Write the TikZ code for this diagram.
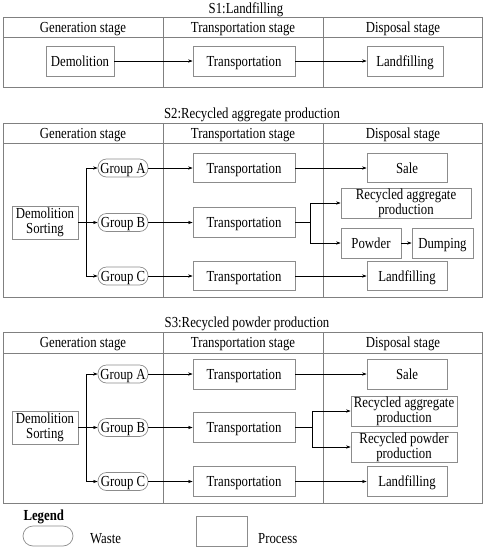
\documentclass[tikz,border=0pt]{standalone}
\usepackage{fontspec}
\setmainfont{Liberation Serif}[FakeStretch=0.835]
\usetikzlibrary{arrows.meta}
\definecolor{boxgray}{HTML}{8C8C8C}
\definecolor{linegray}{HTML}{808080}
\begin{document}
\begin{tikzpicture}[x=1pt,y=-1pt,
  every node/.style={font=\fontsize{15.3}{15}\selectfont, text=black, text height=10pt, text depth=0pt},
  proc/.style={draw=boxgray, line width=0.7pt, inner sep=0pt},
  proctwo/.style={proc, align=center, text height=22pt},
  waste/.style={draw=boxgray, line width=0.7pt, inner sep=0pt, rounded corners=8.5pt, minimum width=50pt, minimum height=18pt},
  arr/.style={-{Stealth[length=4.5pt,width=3.2pt]}, draw=black, line width=0.6pt},
  plain/.style={draw=black, line width=0.6pt},
  tbl/.style={draw=linegray, line width=0.7pt}]
\useasboundingbox (0,0) rectangle (487,550);

% ---------- S1 ----------
\node (t1) at (246,8) {S1:Landfilling};
\draw[tbl] (3.5,17) rectangle (482.5,87);
\draw[tbl] (3.5,37) -- (482.5,37);
\draw[tbl] (163,17) -- (163,87);
\draw[tbl] (323,17) -- (323,87);
\node (h1a) at (83,27) {Generation stage};
\node (h1b) at (243,27) {Transportation stage};
\node (h1c) at (403,27) {Disposal stage};
\node[proc, minimum width=68pt, minimum height=30pt] (dem1) at (80,61) {Demolition};
\node[proc, minimum width=102pt, minimum height=30pt] (tr1) at (244,61) {Transportation};
\node[proc, minimum width=76pt, minimum height=30pt] (lf1) at (405,61) {Landfilling};
\draw[arr] (dem1.east) -- (tr1.west);
\draw[arr] (tr1.east) -- (lf1.west);

% ---------- S2 ----------
\node (t2) at (252,113) {S2:Recycled aggregate production};
\draw[tbl] (3.5,123) rectangle (482.5,297);
\draw[tbl] (3.5,143) -- (482.5,143);
\draw[tbl] (163,123) -- (163,297);
\draw[tbl] (323,123) -- (323,297);
\node (h2a) at (83,133) {Generation stage};
\node (h2b) at (243,133) {Transportation stage};
\node (h2c) at (403,133) {Disposal stage};
\node[proctwo, minimum width=66pt, minimum height=33pt] (ds2) at (45,222.5) {Demolition\\Sorting};
\node[waste] (gA2) at (123,168) {Group A};
\node[waste] (gB2) at (123,222.5) {Group B};
\node[waste] (gC2) at (123,276) {Group C};
\node[proc, minimum width=102pt, minimum height=29pt] (trA2) at (244,168) {Transportation};
\node[proc, minimum width=102pt, minimum height=30pt] (trB2) at (244,222.5) {Transportation};
\node[proc, minimum width=102pt, minimum height=29pt] (trC2) at (244,276) {Transportation};
\node[proc, minimum width=80pt, minimum height=29pt] (sale2) at (407,168) {Sale};
\node[proctwo, minimum width=130pt, minimum height=30pt] (rap2) at (406,203) {Recycled aggregate\\production};
\node[proc, minimum width=60pt, minimum height=30pt] (pow2) at (371,243) {Powder};
\node[proc, minimum width=61pt, minimum height=30pt] (dump2) at (442.5,243) {Dumping};
\node[proc, minimum width=80pt, minimum height=29pt] (lf2) at (407,276) {Landfilling};
\coordinate (br2) at (86,222.5);
\draw[arr] (ds2.east) -- (gB2.west);
\draw[arr] (br2) |- (gA2.west);
\draw[arr] (br2) |- (gC2.west);
\draw[arr] (gA2.east) -- (gA2.east -| trA2.west);
\draw[arr] (gB2.east) -- (gB2.east -| trB2.west);
\draw[arr] (gC2.east) -- (gC2.east -| trC2.west);
\draw[arr] (trA2.east) -- (trA2.east -| sale2.west);
\draw[arr] (trC2.east) -- (trC2.east -| lf2.west);
\coordinate (tb2) at (310,222.5);
\draw[plain] (trB2.east) -- (tb2);
\draw[arr] (tb2) |- (rap2.west);
\draw[arr] (tb2) |- (pow2.west);
\draw[arr] (pow2.east) -- (dump2.west);

% ---------- S3 ----------
\node (t3) at (247,322) {S3:Recycled powder production};
\draw[tbl] (3.5,332) rectangle (482.5,503);
\draw[tbl] (3.5,353) -- (482.5,353);
\draw[tbl] (163,332) -- (163,503);
\draw[tbl] (323,332) -- (323,503);
\node (h3a) at (83,342.5) {Generation stage};
\node (h3b) at (243,342.5) {Transportation stage};
\node (h3c) at (403,342.5) {Disposal stage};
\node[proctwo, minimum width=66pt, minimum height=33pt] (ds3) at (45,427.5) {Demolition\\Sorting};
\node[waste] (gA3) at (123,374) {Group A};
\node[waste] (gB3) at (123,427.5) {Group B};
\node[waste] (gC3) at (123,481.5) {Group C};
\node[proc, minimum width=102pt, minimum height=30pt] (trA3) at (244,374) {Transportation};
\node[proc, minimum width=102pt, minimum height=30pt] (trB3) at (244,427.5) {Transportation};
\node[proc, minimum width=102pt, minimum height=30pt] (trC3) at (244,481.5) {Transportation};
\node[proc, minimum width=80pt, minimum height=30pt] (sale3) at (407,374) {Sale};
\node[proctwo, minimum width=106pt, minimum height=30pt] (rap3) at (404,411) {Recycled aggregate\\production};
\node[proctwo, minimum width=106pt, minimum height=30pt] (rpp3) at (404,447) {Recycled powder\\production};
\node[proc, minimum width=80pt, minimum height=30pt] (lf3) at (407,481.5) {Landfilling};
\coordinate (br3) at (86,427.5);
\draw[arr] (ds3.east) -- (gB3.west);
\draw[arr] (br3) |- (gA3.west);
\draw[arr] (br3) |- (gC3.west);
\draw[arr] (gA3.east) -- (gA3.east -| trA3.west);
\draw[arr] (gB3.east) -- (gB3.east -| trB3.west);
\draw[arr] (gC3.east) -- (gC3.east -| trC3.west);
\draw[arr] (trA3.east) -- (trA3.east -| sale3.west);
\draw[arr] (trC3.east) -- (trC3.east -| lf3.west);
\coordinate (tb3) at (312,427.5);
\draw[plain] (trB3.east) -- (tb3);
\draw[arr] (tb3) |- (rap3.west);
\draw[arr] (tb3) |- (rpp3.west);

% ---------- Legend ----------
\node[anchor=west, font=\fontsize{15.3}{15}\selectfont\bfseries] (leg) at (20,515) {Legend};
\node[draw=boxgray, line width=0.7pt, rounded corners=10pt, minimum width=50pt, minimum height=20pt, inner sep=0pt] (lw) at (48,536) {};
\node[anchor=west, inner sep=0pt] (lwt) at (90,538) {Waste};
\node[draw=boxgray, line width=0.7pt, minimum width=51pt, minimum height=30pt, inner sep=0pt] (lp) at (221.5,531) {};
\node[anchor=west, inner sep=0pt] (lpt) at (258,538) {Process};
\end{tikzpicture}
\end{document}
